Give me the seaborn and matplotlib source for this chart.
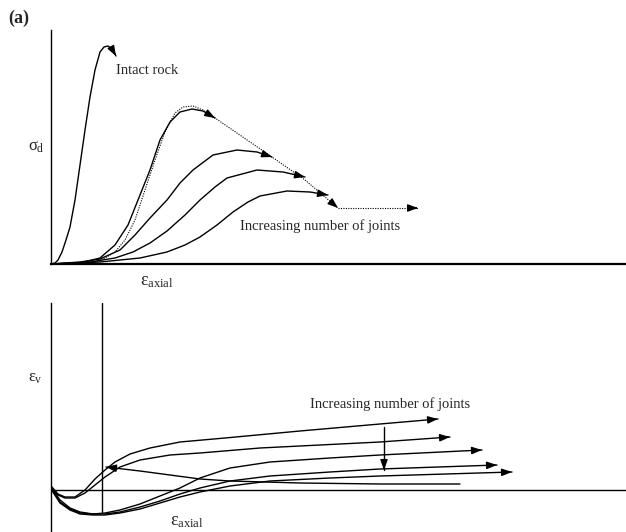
import numpy as np
import pandas as pd
import matplotlib
matplotlib.use("Agg")
import matplotlib.pyplot as plt
import seaborn as sns

# ---- top panel: deviatoric stress vs axial strain (schematic) ----
intact_x = [0, 4, 7, 11, 15, 19, 24, 29, 34, 39, 44, 49, 53, 57, 61, 65]
intact_y = [0, 1, 4, 12, 24, 37, 64, 99, 134, 167, 194, 212, 217, 218, 215, 208]

joint1_x = [0, 29, 49, 64, 77, 89, 99, 109, 119, 129, 141, 152, 164]
joint1_y = [0, 1, 6, 19, 39, 69, 94, 124, 142, 152, 155, 153, 146]
joint2_x = [0, 29, 49, 69, 84, 99, 116, 129, 142, 162, 186, 206, 221]
joint2_y = [0, 2, 5, 14, 29, 46, 64, 81, 94, 109, 114, 112, 107]
joint3_x = [0, 39, 64, 82, 99, 116, 134, 149, 164, 176, 206, 232, 254]
joint3_y = [0, 2, 6, 12, 21, 33, 49, 64, 77, 86, 94, 92, 87]
joint4_x = [0, 49, 89, 116, 134, 149, 166, 182, 197, 209, 236, 259, 277]
joint4_y = [0, 2, 6, 12, 19, 27, 39, 52, 62, 68, 73, 72, 69]

envelope_x = [29, 49, 64, 74, 84, 94, 104, 114, 124, 132, 142, 152, 164, 221, 254, 287]
envelope_y = [0, 3, 12, 24, 44, 74, 104, 132, 151, 157, 158, 154, 146, 107, 84, 56]
residual_x = [287, 367]
residual_y = [56, 56]

# ---- bottom panel: volumetric strain vs axial strain (schematic) ----
vol_a_x = [0, 7, 14, 24, 34, 44, 54, 64, 79, 99, 129, 174, 249, 329, 387]
vol_a_y = [4, -4, -7, -7, 0, 11, 20, 28, 36, 42, 48, 52, 59, 66, 71]
vol_b_x = [0, 7, 14, 24, 34, 44, 54, 69, 89, 119, 149, 209, 329, 399]
vol_b_y = [2, -5, -8, -8, -3, 5, 13, 23, 30, 35, 37, 42, 48, 53]
vol_c_x = [0, 9, 19, 29, 42, 54, 69, 89, 109, 129, 149, 179, 219, 279, 329, 431]
vol_c_y = [3, -10, -18, -22, -24, -23, -20, -14, -6, 2, 12, 22, 28, 32, 35, 40]
vol_d_x = [0, 9, 19, 29, 42, 54, 69, 89, 109, 129, 149, 179, 219, 279, 329, 446]
vol_d_y = [2, -12, -19, -23, -24, -24, -22, -17, -11, -4, 2, 9, 14, 18, 21, 25]
vol_e_x = [0, 9, 19, 29, 42, 54, 69, 89, 109, 129, 149, 179, 219, 279, 329, 461]
vol_e_y = [1, -13, -20, -24, -25, -25, -23, -19, -13, -7, -2, 4, 9, 12, 14, 18]
vol_f_x = [409, 329, 249, 179, 149, 119, 89, 55]
vol_f_y = [6, 6, 7, 9, 11, 15, 19, 23]

peak_line_x = [51, 51]
peak_line_y = [-22, 187]
trend_x = [333, 333]
trend_y = [63, 20]


def curve(ax, xs, ys, arrow=True, ls="-", lw=1.0):
    df = pd.DataFrame({"x": xs, "y": ys})
    sns.lineplot(data=df, x="x", y="y", sort=False, estimator=None,
                 color="black", lw=lw, linestyle=ls, ax=ax)
    if arrow:
        x0, y0 = xs[-2], ys[-2]
        x1, y1 = xs[-1], ys[-1]
        d = np.hypot(x1 - x0, y1 - y0)
        t = 3.0 / d
        ax.annotate("", xy=(x1, y1), xytext=(x1 - (x1 - x0) * t, y1 - (y1 - y0) * t),
                    arrowprops=dict(arrowstyle="-|>,head_length=0.6,head_width=0.22",
                                    color="black", lw=1.0, shrinkA=0, shrinkB=0))


sns.set_style("white")
plt.rcParams["font.family"] = ["Liberation Serif", "DejaVu Serif"]
# upright Greek letters in a Times-like face, as in the original figure
plt.rcParams["mathtext.fontset"] = "custom"
plt.rcParams["mathtext.rm"] = "Liberation Serif"
plt.rcParams["mathtext.it"] = "Liberation Serif"
plt.rcParams["mathtext.bf"] = "Liberation Serif:bold"

fig = plt.figure(figsize=(6.26, 5.32), dpi=100)
W, H = 626.0, 532.0

ax1 = fig.add_axes([51 / W, (H - 264) / H, 575 / W, 234 / H])
ax2 = fig.add_axes([51 / W, 0.0, 575 / W, 229 / H])

# top panel
curve(ax1, intact_x, intact_y)
for xs, ys in [(joint1_x, joint1_y), (joint2_x, joint2_y),
               (joint3_x, joint3_y), (joint4_x, joint4_y)]:
    curve(ax1, xs, ys)
curve(ax1, envelope_x, envelope_y, ls=(0, (1, 1.2)), lw=0.8)
curve(ax1, residual_x, residual_y, ls=(0, (1, 1.2)), lw=0.8)

ax1.set_xlim(0, 575)
ax1.set_ylim(0, 234)
ax1.text(65, 193, "Intact rock", fontsize=10.5, va="center", ha="left")
ax1.text(189, 38, "Increasing number of joints", fontsize=10.5, va="center", ha="left")
ax1.text(-23, 117, r"$\sigma_\mathrm{d}$", fontsize=12, va="center", ha="left")
ax1.text(89, -17, r"$\varepsilon_\mathrm{axial}$", fontsize=13, va="center", ha="left")

# bottom panel
for xs, ys in [(vol_a_x, vol_a_y), (vol_b_x, vol_b_y), (vol_c_x, vol_c_y),
               (vol_d_x, vol_d_y), (vol_e_x, vol_e_y), (vol_f_x, vol_f_y)]:
    curve(ax2, xs, ys)
curve(ax2, peak_line_x, peak_line_y, arrow=False)
curve(ax2, trend_x, trend_y)
ax2.axhline(0, color="black", lw=1.0)

ax2.set_xlim(0, 575)
ax2.set_ylim(-42, 187)
ax2.text(259, 86, "Increasing number of joints", fontsize=10.5, va="center", ha="left")
ax2.text(119, -31, r"$\varepsilon_\mathrm{axial}$", fontsize=13, va="center", ha="left")
ax2.text(-23, 112, r"$\varepsilon_\mathrm{v}$", fontsize=12, va="center", ha="left")

for ax in (ax1, ax2):
    ax.set_xlabel("")
    ax.set_ylabel("")
    ax.set_xticks([])
    ax.set_yticks([])
    ax.spines["top"].set_visible(False)
    ax.spines["right"].set_visible(False)
    ax.spines["left"].set_color("black")
    ax.spines["left"].set_linewidth(1.0)
    ax.set_facecolor("none")
ax1.spines["bottom"].set_color("black")
ax1.spines["bottom"].set_linewidth(1.6)
ax2.spines["bottom"].set_visible(False)

fig.text(8 / W, 1 - 18 / H, "(a)", fontsize=13, fontweight="bold", va="center", ha="left")

fig.savefig("out.png", dpi=100)
